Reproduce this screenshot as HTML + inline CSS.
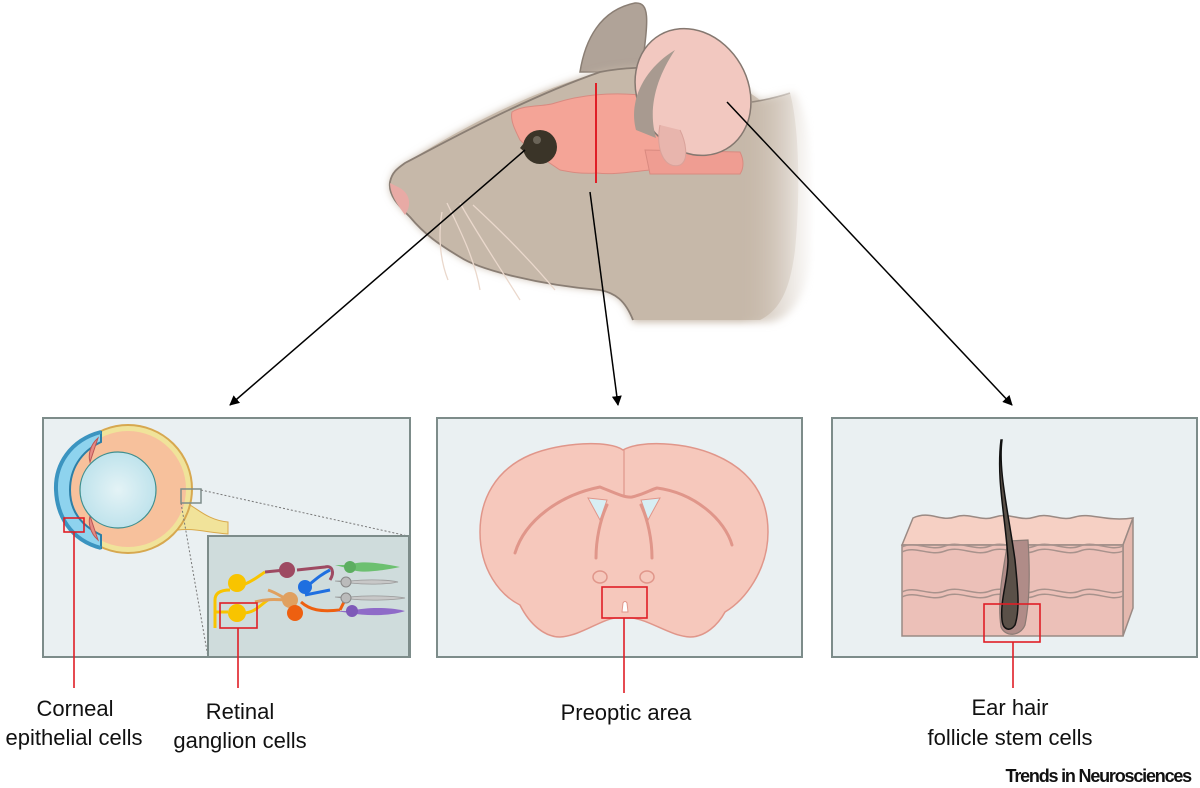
<!DOCTYPE html>
<html><head><meta charset="utf-8"><style>
html,body{margin:0;padding:0;background:#fff;}
svg{display:block;}
text{font-family:"Liberation Sans",Arial,sans-serif;fill:#111;}
</style></head><body>
<svg width="1200" height="788" viewBox="0 0 1200 788" xmlns="http://www.w3.org/2000/svg">
<defs>
<marker id="ah" markerWidth="10" markerHeight="10" refX="9" refY="5" orient="auto" markerUnits="userSpaceOnUse"><path d="M0,0 L10,5 L0,10 Z" fill="#000"/></marker>
<radialGradient id="lens" cx="0.5" cy="0.5" r="0.5"><stop offset="0" stop-color="#e4f3f6"/><stop offset="1" stop-color="#bfe3ec"/></radialGradient>
<linearGradient id="fg" x1="740" y1="0" x2="815" y2="0" gradientUnits="userSpaceOnUse">
<stop offset="0" stop-color="#fff" stop-opacity="1"/><stop offset="1" stop-color="#fff" stop-opacity="0"/></linearGradient>
<mask id="bm"><rect x="0" y="0" width="1200" height="400" fill="url(#fg)"/></mask>
<filter id="blur"><feGaussianBlur stdDeviation="4"/></filter>
</defs>

<!-- mouse -->
<path d="M580,72 C585,40 600,10 635,3 C650,2 648,20 643,60 L640,72 Z" fill="#b0a398" stroke="#8a7e74" stroke-width="1.5"/>
<g mask="url(#bm)">
<path d="M395,170 C440,140 520,95 600,72 C660,60 720,70 760,100 C775,98 785,93 795,92 C815,120 825,200 815,260 C805,300 790,320 770,322 L633,322 C625,300 615,293 600,290 C540,285 480,270 460,257 C440,245 425,235 410,217 C398,205 388,195 390,182 Z" fill="#c6b8a9" filter="url(#blur)"/>
</g>
<path d="M395,170 C440,140 520,95 600,72 C660,60 720,70 760,100 C770,100 780,97 790,93 C800,130 800,200 795,250 C790,290 780,310 760,320 L633,320 C625,300 615,293 600,290 C540,285 480,270 460,257 C440,245 425,235 410,217 C398,205 388,195 390,182 Z" fill="#c6b8a9" mask="url(#bm)"/>
<path d="M633,320 C625,300 615,293 600,290 C540,285 480,270 460,257 C440,245 425,235 410,217 C398,205 388,195 390,182 C392,172 398,168 405,163 C440,145 520,100 600,72 C640,64 700,66 740,90" fill="none" stroke="#8a7e74" stroke-width="1.8"/>
<path d="M752,102 C765,100 775,98 790,93" fill="none" stroke="#8a7e74" stroke-width="1.5" mask="url(#bm)"/>
<path d="M390,183 L400,188 C410,194 412,205 405,215 C398,205 390,195 390,182 Z" fill="#e8aaa5"/>
<!-- brain -->
<path d="M512,112 C525,104 545,107 555,103 C580,95 610,92 640,95 C660,98 680,110 700,120 L720,148 L718,165 C700,170 670,172 650,170 C630,172 612,175 597,173 C580,174 570,172 560,170 C545,160 530,150 520,140 C515,130 510,120 512,112 Z" fill="#f4a497" stroke="#d98a80" stroke-width="1"/>
<path d="M645,150 L740,152 C744,160 744,168 740,174 L650,174 Z" fill="#ef9d92" stroke="#d98a80" stroke-width="1"/>
<line x1="596" y1="83" x2="596" y2="183" stroke="#e01e26" stroke-width="2"/>
<!-- big ear -->
<g transform="rotate(-30 693 92)"><ellipse cx="693" cy="92" rx="55" ry="66" fill="#f2c8c0" stroke="#857870" stroke-width="1.5"/></g>
<path d="M636,130 C628,100 645,68 675,50 C655,80 648,110 656,138 Z" fill="#a89a90"/>
<path d="M660,125 C655,150 665,170 680,165 C690,160 685,140 680,130" fill="#e8b5ad" stroke="#d9a29a" stroke-width="1"/>
<!-- eye -->
<circle cx="540" cy="147" r="17" fill="#3a3428"/>
<path d="M520,148 L528,138 L528,155 Z" fill="#3a3428"/>
<circle cx="537" cy="140" r="4" fill="#6a6458"/>
<!-- whiskers -->
<g stroke="#ead8cc" stroke-width="1.3" fill="none">
<path d="M442,212 C438,235 440,260 448,280"/>
<path d="M447,203 C460,230 475,260 480,290"/>
<path d="M460,203 C475,230 495,260 520,300"/>
<path d="M473,205 C500,230 530,260 555,290"/>
</g>
<!-- arrows -->
<g stroke="#000" stroke-width="1.5" marker-end="url(#ah)">
<line x1="525" y1="150" x2="230" y2="405"/>
<line x1="590" y1="192" x2="618" y2="405"/>
<line x1="727" y1="102" x2="1012" y2="405"/>
</g>

<!-- panels -->
<g fill="#eaf0f2" stroke="#7d8c8a" stroke-width="2">
<rect x="43" y="418" width="367" height="239"/>
<rect x="437" y="418" width="365" height="239"/>
<rect x="832" y="418" width="365" height="239"/>
</g>

<!-- eye panel -->
<path d="M180,500 C195,505 205,520 228,522 L228,534 C205,532 192,528 178,530 Z" fill="#f1e39a" stroke="#d9a94c"/>
<circle cx="128" cy="489" r="64" fill="#f0e39a" stroke="#d7a850" stroke-width="2"/>
<circle cx="128" cy="489" r="58" fill="#f7c19c"/>
<path d="M101,432 C70,440 55,465 56,490 C57,515 70,540 101,548 L101,535 C80,525 70,510 70,490 C70,470 80,452 101,442 Z" fill="#8ed3ee" stroke="#2c7fa7" stroke-width="2"/>
<path d="M101,432 C70,440 55,465 56,490 C57,515 70,540 101,548" fill="none" stroke="#3b94c0" stroke-width="4"/>
<path d="M98,438 C90,445 88,455 90,462 Z M98,540 C90,533 88,523 90,516 Z" fill="#e58b84" stroke="#b55"/>
<circle cx="118" cy="490" r="38" fill="url(#lens)" stroke="#3f8f8f" stroke-width="1.2"/>
<rect x="181" y="489" width="20" height="14" fill="none" stroke="#7d8c8a" stroke-width="1.5"/>
<line x1="201" y1="490" x2="408" y2="536" stroke="#777" stroke-width="1" stroke-dasharray="2,2"/>
<line x1="181" y1="503" x2="208" y2="657" stroke="#777" stroke-width="1" stroke-dasharray="2,2"/>
<rect x="208" y="536" width="201" height="121" fill="#cfdcdc" stroke="#7d8c8a" stroke-width="2"/>
<!-- retina cells -->
<g stroke-width="3" fill="none">
<path d="M215,628 L215,600 C215,592 222,590 230,590" stroke="#f8c400"/>
<path d="M215,628 L215,612 L228,612" stroke="#f8c400"/>
<path d="M243,585 C255,580 260,575 265,572" stroke="#f8c400"/>
<path d="M243,613 C255,613 260,605 268,600" stroke="#f8c400"/>
<path d="M255,602 C270,598 280,600 290,600 M268,590 C280,594 285,600 290,600" stroke="#e0a060"/>
<path d="M265,572 L285,570 M297,570 L325,567 C332,565 335,572 330,580" stroke="#9e4a62"/>
<path d="M301,602 C310,610 320,612 340,610 M340,610 L345,600" stroke="#ee6010"/>
<path d="M305,588 C315,580 320,575 330,570 M305,595 L330,590" stroke="#1f6fe0"/>
</g>
<circle cx="237" cy="583" r="9" fill="#f8c400"/>
<circle cx="237" cy="613" r="9" fill="#f8c400"/>
<circle cx="287" cy="570" r="8" fill="#9e4a62"/>
<circle cx="290" cy="600" r="8" fill="#e0a060"/>
<circle cx="305" cy="587" r="7" fill="#1f6fe0"/>
<circle cx="295" cy="613" r="8" fill="#ee6010"/>
<path d="M335,565 L350,565 C360,560 380,563 400,567 C380,571 360,574 350,569 Z" fill="#6cc070"/>
<circle cx="350" cy="567" r="6" fill="#5cae60"/>
<path d="M335,581 L350,581 C370,579 390,580 398,582 C390,584 370,585 350,583 Z" fill="#c8c8c8" stroke="#999" stroke-width="0.8"/>
<circle cx="346" cy="582" r="5" fill="#bbb" stroke="#888"/>
<path d="M335,597 L350,597 C370,595 395,596 405,598 C395,600 370,601 350,599 Z" fill="#c8c8c8" stroke="#999" stroke-width="0.8"/>
<circle cx="346" cy="598" r="5" fill="#bbb" stroke="#888"/>
<path d="M335,611 L350,611 C370,606 395,608 405,611 C395,615 370,617 350,613 Z" fill="#8f6bc8"/>
<circle cx="352" cy="611" r="6" fill="#7e5ab8"/>
<rect x="64" y="518" width="20" height="14" fill="none" stroke="#e01e26" stroke-width="1.6"/>
<rect x="220" y="603" width="37" height="25" fill="none" stroke="#e01e26" stroke-width="1.6"/>

<!-- brain section -->
<path d="M623,450 C610,440 560,442 530,455 C495,470 480,500 480,532 C480,570 500,595 520,605 C530,625 545,637 560,637 C580,636 600,620 615,618 L632,618 C650,620 670,636 690,637 C705,637 718,625 725,612 C745,600 768,570 768,532 C768,495 750,470 715,455 C685,442 640,440 623,450 Z" fill="#f6c8bc" stroke="#e0968a" stroke-width="1.5"/>
<g stroke="#e0968a" stroke-width="3" fill="none" stroke-linecap="round">
<path d="M515,553 C525,520 560,495 600,487 C615,493 625,498 632,497 C645,494 650,490 657,488 C695,493 725,520 732,545"/>
<path d="M596,558 C596,540 600,520 607,505"/>
<path d="M652,558 C652,540 648,520 641,505"/>
</g>
<line x1="624" y1="450" x2="624" y2="495" stroke="#e0968a" stroke-width="1.2"/>
<path d="M588,498 L607,500 L600,520 Z M660,498 L641,500 L648,520 Z" fill="#d7eef4" stroke="#e0968a"/>
<ellipse cx="600" cy="577" rx="7" ry="6" fill="none" stroke="#e0968a" stroke-width="1.5"/>
<ellipse cx="647" cy="577" rx="7" ry="6" fill="none" stroke="#e0968a" stroke-width="1.5"/>
<path d="M622,612 L623,603 C624,601 626,601 627,603 L628,612 Z" fill="#fff" stroke="#e0968a"/>
<rect x="602" y="587" width="45" height="31" fill="none" stroke="#e01e26" stroke-width="1.6"/>

<!-- skin -->
<path d="M902,545 L913,518 C930,510 940,522 955,517 C970,512 980,522 995,517 C1010,512 1020,522 1035,517 C1050,512 1060,522 1075,517 C1090,512 1105,522 1133,518 L1123,545 Z" fill="#f6d0c4" stroke="#9a8a84" stroke-width="1.5"/>
<path d="M1123,545 L1133,518 L1133,608 L1123,636 Z" fill="#e4b8ae" stroke="#9a8a84" stroke-width="1.5"/>
<rect x="902" y="545" width="221" height="91" fill="#ecc0b8" stroke="#9a8a84" stroke-width="1.5"/>
<g fill="none" stroke="#a8928c" stroke-width="1.5">
<path d="M902,547 C915,540 930,552 945,546 C960,540 975,552 990,546 C1005,540 1020,552 1035,546 C1050,540 1065,552 1080,546 C1095,540 1110,552 1123,546"/>
<path d="M902,552 C915,545 930,557 945,551 C960,545 975,557 990,551 C1005,545 1020,557 1035,551 C1050,545 1065,557 1080,551 C1095,545 1110,557 1123,551"/>
<path d="M902,592 C915,585 930,597 945,591 C960,585 975,597 990,591 C1005,585 1020,597 1035,591 C1050,585 1065,597 1080,591 C1095,585 1110,597 1123,591"/>
<path d="M902,597 C915,590 930,602 945,596 C960,590 975,602 990,596 C1005,590 1020,602 1035,596 C1050,590 1065,602 1080,596 C1095,590 1110,602 1123,596"/>
</g>
<path d="M1008,541 L1028,540 C1030,570 1030,600 1025,625 C1020,637 1005,637 1001,627 C997,600 1003,570 1008,541 Z" fill="#b08c88" stroke="#8a7a74" stroke-width="1.2"/>
<path d="M1002,440 C998,470 1008,510 1015,560 C1018,590 1020,610 1015,625 C1010,632 1003,630 1002,620 C1000,600 1008,580 1008,560 C1006,520 996,480 1001,440 Z" fill="#5a5048" stroke="#111" stroke-width="1.5"/>
<rect x="984" y="604" width="56" height="38" fill="none" stroke="#e01e26" stroke-width="1.6"/>

<!-- red connectors -->
<g stroke="#e01e26" stroke-width="1.6">
<line x1="74" y1="532" x2="74" y2="688"/>
<line x1="238" y1="628" x2="238" y2="688"/>
<line x1="624" y1="618" x2="624" y2="693"/>
<line x1="1013" y1="642" x2="1013" y2="688"/>
</g>

<!-- labels -->
<g font-size="22" text-anchor="middle">
<text x="75" y="716">Corneal</text>
<text x="74" y="745">epithelial cells</text>
<text x="240" y="719">Retinal</text>
<text x="240" y="748">ganglion cells</text>
<text x="626" y="720">Preoptic area</text>
<text x="1010" y="715">Ear hair</text>
<text x="1010" y="745">follicle stem cells</text>
</g>
<text x="1191" y="782" font-size="18" font-weight="bold" text-anchor="end" letter-spacing="-1.2">Trends in Neurosciences</text>
</svg>
</body></html>
